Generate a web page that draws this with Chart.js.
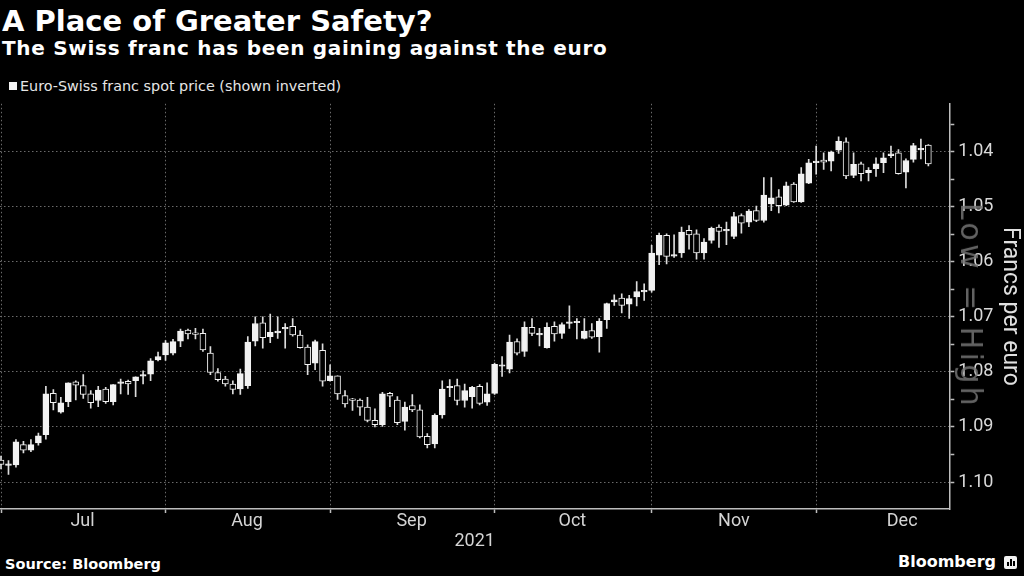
<!DOCTYPE html>
<html>
<head>
<meta charset="utf-8">
<script src="https://cdn.jsdelivr.net/npm/chart.js@4.4.1/dist/chart.umd.min.js"></script>
<style>
  html, body { margin: 0; padding: 0; background: #000; }
  body { width: 1024px; height: 576px; position: relative; overflow: hidden; font-family: "DejaVu Sans", sans-serif; color: #fff; }
  .txt { position: absolute; white-space: nowrap; line-height: 1; }
  #title { left: 2px; top: 7.2px; font-size: 29px; font-weight: bold; }
  #subtitle { left: 2px; top: 38px; font-size: 20px; font-weight: bold; letter-spacing: 0.7px; }
  #legendBox { position: absolute; left: 9px; top: 82px; width: 8px; height: 8px; background: #f2f2f2; }
  #legend { left: 20px; top: 79px; font-size: 14.35px; color: #e6e6e6; }
  #chartWrap { position: absolute; left: 0; top: 89px; width: 1024px; height: 461px; }
  #watermark { left: 971px; top: 306px; font-size: 30px; letter-spacing: 3.4px; color: rgba(115,115,115,0.85);
               transform: translate(-50%, -50%) rotate(90deg); }
  #source { left: 5px; top: 556.7px; font-size: 14.5px; font-weight: bold; }
  #logo { right: 28px; top: 553.8px; font-size: 16px; font-weight: bold; }
  #logoIcon { position: absolute; left: 1004px; top: 556px; width: 13px; height: 13px; background: #f2f2f2; border-radius: 2px; }
  #logoIcon span { position: absolute; bottom: 3px; width: 1.5px; background: #000; }
</style>
</head>
<body>
<div class="txt" id="title">A Place of Greater Safety?</div>
<div class="txt" id="subtitle">The Swiss franc has been gaining against the euro</div>
<div id="legendBox"></div>
<div class="txt" id="legend">Euro-Swiss franc spot price (shown inverted)</div>
<div id="chartWrap"><canvas id="myChart"></canvas></div>
<div class="txt" id="watermark">Low = High</div>
<div class="txt" id="source">Source: Bloomberg</div>
<div class="txt" id="logo">Bloomberg</div>
<div id="logoIcon"><span style="left:3px;height:4px"></span><span style="left:6px;height:7px"></span><span style="left:9px;height:5px"></span></div>

<script>
// month axis (trading-day index)
var monthNames = ['Jul', 'Aug', 'Sep', 'Oct', 'Nov', 'Dec']
var monthStarts = [0, 22, 44, 66, 87, 109]
var monthMids = [10.9, 32.9, 54.9, 76.4, 98.0, 120.5]

// price axis
var yTicks = [1.035, 1.04, 1.045, 1.05, 1.055, 1.06, 1.065, 1.07, 1.075, 1.08, 1.085, 1.09, 1.095, 1.10]
var yLabels = [1.04, 1.05, 1.06, 1.07, 1.08, 1.09, 1.10]

// EUR/CHF daily candles, Jul 1 - Dec 22 2021
var openP = [
  1.0960,1.0968,1.0969,1.0932,1.0942,1.0929,1.0914,1.0839,1.0873,1.0854,1.0818,1.0825,1.0840,1.0852,1.0831,1.0854,1.0819,1.0817,1.0816,1.0806,1.0804,1.0778,
  1.0769,1.0766,1.0744,1.0724,1.0729,1.0730,1.0766,1.0801,1.0813,1.0822,1.0831,1.0825,1.0744,1.0711,1.0736,1.0729,1.0720,1.0717,1.0733,1.0755,1.0784,1.0761,
  1.0816,1.0807,1.0843,1.0849,1.0851,1.0864,1.0888,1.0896,1.0839,1.0851,1.0890,1.0861,1.0869,1.0917,1.0931,1.0878,1.0828,1.0825,1.0852,1.0845,1.0826,1.0855,
  1.0839,1.0788,1.0795,1.0745,1.0763,1.0719,1.0731,1.0756,1.0717,1.0730,1.0710,1.0709,1.0739,1.0725,1.0736,1.0705,1.0673,1.0666,1.0677,1.0664,1.0653,
  1.0652,1.0588,1.0552,1.0588,1.0584,1.0543,1.0549,1.0584,1.0561,1.0537,1.0542,1.0554,1.0516,1.0528,1.0507,1.0525,1.0495,1.0482,1.0497,1.0459,1.0491,1.0457,
  1.0418,1.0415,1.0417,1.0397,1.0382,1.0443,1.0422,1.0438,1.0431,1.0420,1.0407,1.0402,1.0437,1.0414,1.0395,1.0388
]
var highP = [
  1.0976,1.0986,1.0973,1.0947,1.0945,1.0933,1.0922,1.0869,1.0875,1.0863,1.0851,1.0848,1.0866,1.0863,1.0857,1.0860,1.0840,1.0841,1.0845,1.0822,1.0816,1.0780,
  1.0779,1.0769,1.0754,1.0740,1.0740,1.0763,1.0805,1.0817,1.0826,1.0840,1.0841,1.0830,1.0753,1.0757,1.0747,1.0739,1.0757,1.0735,1.0757,1.0805,1.0796,1.0826,
  1.0817,1.0850,1.0864,1.0870,1.0879,1.0891,1.0900,1.0899,1.0863,1.0896,1.0906,1.0872,1.0920,1.0938,1.0938,1.0884,1.0845,1.0860,1.0864,1.0866,1.0860,1.0861,
  1.0841,1.0808,1.0802,1.0769,1.0772,1.0734,1.0753,1.0757,1.0744,1.0739,1.0721,1.0740,1.0740,1.0739,1.0764,1.0721,1.0679,1.0693,1.0703,1.0680,1.0670,
  1.0655,1.0605,1.0604,1.0592,1.0592,1.0577,1.0595,1.0595,1.0566,1.0574,1.0569,1.0558,1.0548,1.0536,1.0527,1.0528,1.0507,1.0511,1.0498,1.0492,1.0492,1.0458,
  1.0441,1.0432,1.0435,1.0403,1.0449,1.0447,1.0453,1.0453,1.0445,1.0438,1.0411,1.0441,1.0466,1.0419,1.0413,1.0426
]
var lowP = [
  1.0953,1.0961,1.0923,1.0926,1.0923,1.0911,1.0826,1.0832,1.0846,1.0820,1.0816,1.0805,1.0834,1.0826,1.0828,1.0823,1.0813,1.0815,1.0809,1.0798,1.0776,1.0764,
  1.0743,1.0741,1.0722,1.0722,1.0721,1.0722,1.0754,1.0794,1.0808,1.0816,1.0795,1.0736,1.0700,1.0700,1.0695,1.0700,1.0712,1.0703,1.0725,1.0751,1.0742,1.0749,
  1.0787,1.0807,1.0834,1.0848,1.0849,1.0846,1.0867,1.0837,1.0837,1.0845,1.0855,1.0841,1.0860,1.0912,1.0876,1.0816,1.0814,1.0813,1.0822,1.0826,1.0823,1.0820,
  1.0784,1.0772,1.0733,1.0740,1.0709,1.0703,1.0721,1.0711,1.0709,1.0711,1.0680,1.0703,1.0703,1.0712,1.0703,1.0675,1.0660,1.0658,1.0661,1.0636,1.0640,
  1.0570,1.0548,1.0549,1.0551,1.0537,1.0534,1.0542,1.0558,1.0537,1.0533,1.0528,1.0510,1.0513,1.0505,1.0499,1.0447,1.0447,1.0469,1.0455,1.0456,1.0429,1.0414,
  1.0390,1.0402,1.0399,1.0373,1.0375,1.0402,1.0419,1.0429,1.0411,1.0402,1.0390,1.0396,1.0413,1.0385,1.0377,1.0387
]
var closeP = [
  1.0968,1.0967,1.0927,1.0942,1.0932,1.0916,1.0840,1.0856,1.0856,1.0820,1.0824,1.0841,1.0856,1.0833,1.0854,1.0823,1.0818,1.0822,1.0809,1.0805,1.0780,1.0772,
  1.0747,1.0745,1.0726,1.0731,1.0730,1.0760,1.0801,1.0814,1.0822,1.0832,1.0803,1.0746,1.0712,1.0738,1.0728,1.0726,1.0719,1.0733,1.0756,1.0787,1.0745,1.0817,
  1.0807,1.0840,1.0858,1.0850,1.0864,1.0888,1.0896,1.0840,1.0844,1.0892,1.0864,1.0869,1.0918,1.0932,1.0879,1.0831,1.0826,1.0852,1.0834,1.0828,1.0857,1.0840,
  1.0786,1.0787,1.0746,1.0766,1.0719,1.0730,1.0730,1.0719,1.0731,1.0714,1.0709,1.0708,1.0726,1.0737,1.0708,1.0676,1.0669,1.0679,1.0667,1.0654,1.0652,
  1.0584,1.0552,1.0590,1.0587,1.0546,1.0551,1.0584,1.0564,1.0539,1.0545,1.0541,1.0518,1.0530,1.0508,1.0525,1.0479,1.0484,1.0498,1.0462,1.0491,1.0440,1.0420,
  1.0417,1.0419,1.0401,1.0381,1.0444,1.0423,1.0440,1.0434,1.0422,1.0411,1.0404,1.0440,1.0416,1.0389,1.0394,1.0422
]

var candleWhite = '#f2f2f2'
var gridGrey = '#6a6a6a'
var axisGrey = '#bdbdbd'
var none = 'rgba(0,0,0,0)'

function isStart(v) { return monthStarts.indexOf(v) !== -1 }
function isMajor(v) { return yLabels.some(function(m){ return Math.abs(m - v) < 1e-6 }) }

var wickData = lowP.map(function(l, i){ return {x: i, y: [l, highP[i]]} })
var bodyData = openP.map(function(o, i){ return {x: i, y: [o, closeP[i]]} })

const ctx = document.getElementById('myChart')

new Chart(ctx, {
  type: 'bar',
  data: {
    datasets: [{
      label: 'wick',
      data: wickData,
      backgroundColor: '#dcdcdc',
      barThickness: 1,
      grouped: false,
      order: 1
    }, {
      label: 'Euro-Swiss franc spot price (shown inverted)',
      data: bodyData,
      backgroundColor: function(c){ return closeP[c.dataIndex] < openP[c.dataIndex] ? candleWhite : '#000' },
      borderColor: candleWhite,
      borderWidth: 1,
      borderSkipped: false,
      barThickness: 6,
      minBarLength: 1.5,
      grouped: false,
      order: 0
    }]
  },
  options: {
    responsive: true,
    maintainAspectRatio: false,
    animation: false,
    layout: { padding: { left: 0, right: 0, top: 12, bottom: 0 } },
    plugins: {
      legend: { display: false },
      tooltip: { enabled: false }
    },
    scales: {
      x: {
        type: 'linear',
        min: -0.134,
        max: 126.8,
        offset: false,
        afterBuildTicks: function(axis){
          axis.ticks = monthStarts.concat(monthMids).sort(function(a, b){ return a - b }).map(function(v){ return {value: v} })
        },
        grid: {
          offset: false,
          color: function(c){ return isStart(c.tick.value) ? gridGrey : none },
          tickColor: function(c){ return isStart(c.tick.value) ? axisGrey : none },
          tickLength: 4,
          tickWidth: 1.5
        },
        border: { display: true, color: axisGrey, width: 1.5, dash: [1.5, 2.5] },
        ticks: {
          autoSkip: false,
          maxRotation: 0,
          padding: -1,
          color: '#d4d4d4',
          font: { family: 'Roboto', size: 18, lineHeight: 1 },
          callback: function(v){
            var k = monthMids.indexOf(v)
            return k === -1 ? '' : monthNames[k]
          }
        },
        title: {
          display: true,
          text: '2021',
          color: '#d4d4d4',
          font: { family: 'Roboto', size: 18, lineHeight: 1 },
          padding: { top: 3, bottom: 0 }
        }
      },
      y: {
        type: 'linear',
        position: 'right',
        reverse: true,
        beginAtZero: false,
        min: 1.0313,
        max: 1.1049,
        afterBuildTicks: function(axis){
          axis.ticks = yTicks.map(function(v){ return {value: v} })
        },
        grid: {
          color: function(c){ return isMajor(c.tick.value) ? gridGrey : none },
          tickColor: axisGrey,
          tickLength: 5,
          tickWidth: 1.5
        },
        border: { display: true, color: axisGrey, width: 1.5, dash: [1.5, 2.5] },
        ticks: {
          autoSkip: false,
          padding: 4,
          color: '#d9d9d9',
          font: { family: 'Roboto', size: 18 },
          callback: function(v){ return isMajor(v) ? v.toFixed(2) : '' }
        },
        title: {
          display: true,
          text: 'Francs per euro',
          color: '#e0e0e0',
          font: { family: 'Roboto', size: 23 },
          padding: { top: 0, bottom: -1 }
        }
      }
    }
  }
})
</script>
</body>
</html>
